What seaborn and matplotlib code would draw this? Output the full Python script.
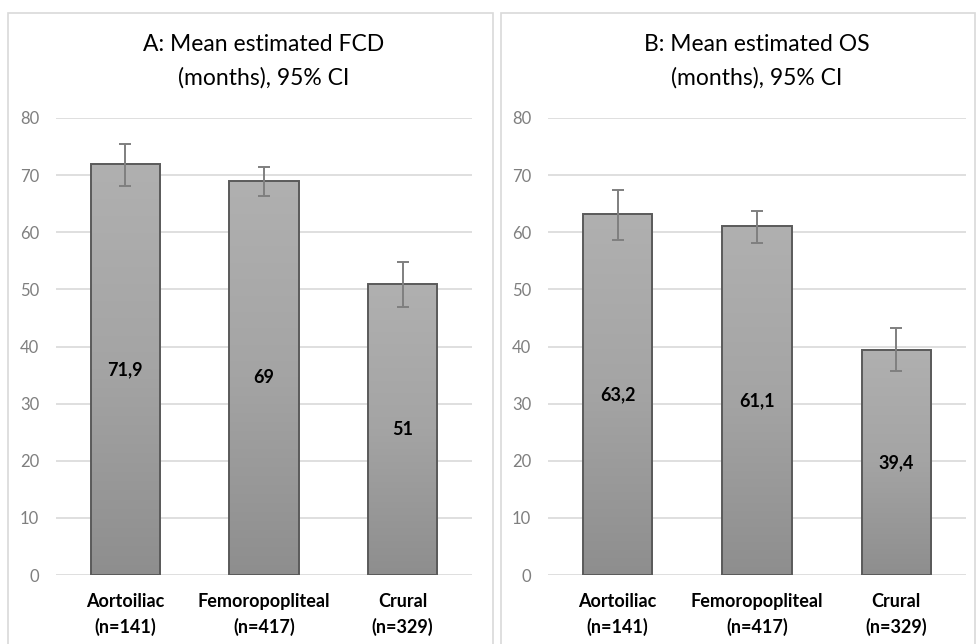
import numpy as np
import matplotlib
matplotlib.use("Agg")
import matplotlib.pyplot as plt
from matplotlib.patches import Rectangle
from matplotlib.colors import LinearSegmentedColormap
import seaborn as sns

sns.set_theme(style="white")
plt.rcParams["font.family"] = ["Lato", "DejaVu Sans"]

# Data
categories = ["Aortoiliac\n(n=141)", "Femoropopliteal\n(n=417)", "Crural\n(n=329)"]

fcd_mean = [71.9, 69.0, 51.0]
fcd_lo = [68.1, 66.3, 46.9]
fcd_hi = [75.5, 71.5, 54.8]
fcd_labels = ["71,9", "69", "51"]

os_mean = [63.2, 61.1, 39.4]
os_lo = [58.7, 58.1, 35.7]
os_hi = [67.4, 63.8, 43.2]
os_labels = ["63,2", "61,1", "39,4"]

titles = ["A: Mean estimated FCD\n(months), 95% CI", "B: Mean estimated OS\n(months), 95% CI"]

fig = plt.figure(figsize=(9.76, 6.44), dpi=100)

# panel frames
for x0, x1 in [(8, 493), (501, 975)]:
    fig.patches.append(Rectangle((x0 / 976, -0.05), (x1 - x0) / 976, 1.05 - 13 / 644,
                                 transform=fig.transFigure, fill=False,
                                 edgecolor="#d9d9d9", linewidth=1.2))

grad_cmap = LinearSegmentedColormap.from_list("g", ["#8e8e8e", "#a4a4a4", "#b0b0b0"])
grad = np.linspace(0, 1, 256).reshape(-1, 1)

panels = [(56, 416, fcd_mean, fcd_lo, fcd_hi, fcd_labels, titles[0]),
          (548, 418, os_mean, os_lo, os_hi, os_labels, titles[1])]

for left, width, mean, lo, hi, labels, title in panels:
    ax = fig.add_axes([left / 976, 69 / 644, width / 976, 457 / 644])
    sns.barplot(x=categories, y=mean, ax=ax, width=0.5, color="#a5a5a5",
                edgecolor="#5a5a5a", linewidth=1.4)
    ax.set_ylim(0, 80)
    ax.set_xlim(-0.5, 2.5)

    # gradient fill clipped to each bar
    for bar in ax.patches:
        x, w, h = bar.get_x(), bar.get_width(), bar.get_height()
        im = ax.imshow(grad, extent=[x, x + w, 0, h], origin="lower", aspect="auto",
                       cmap=grad_cmap, zorder=0.95)
        im.set_clip_path(bar)
        bar.set_facecolor("none")
        bar.set_zorder(1.2)
    ax.set_ylim(0, 80)
    ax.set_xlim(-0.5, 2.5)

    yerr = [np.array(mean) - np.array(lo), np.array(hi) - np.array(mean)]
    ax.errorbar(range(3), mean, yerr=yerr, fmt="none", ecolor="#7f7f7f",
                elinewidth=1.4, capsize=4.5, capthick=1.4, zorder=3)

    ax.bar_label(ax.containers[0], labels=labels, label_type="center",
                 fontsize=13, fontweight="bold", color="black")

    ax.set_yticks(range(0, 81, 10))
    ax.yaxis.grid(True, color="#d9d9d9", linewidth=1.2)
    ax.set_axisbelow(True)
    for s in ax.spines.values():
        s.set_visible(False)
    ax.tick_params(axis="y", length=0, pad=12, labelsize=12, labelcolor="#7f7f7f")
    ax.tick_params(axis="x", length=0, pad=13)
    for t in ax.get_xticklabels():
        t.set_fontweight("bold")
        t.set_fontsize(13)
        t.set_color("black")
        t.set_linespacing(1.55)
    ax.set_title(title, fontsize=16.5, color="black", pad=24, linespacing=1.7)

fig.savefig("out.png", dpi=100)
